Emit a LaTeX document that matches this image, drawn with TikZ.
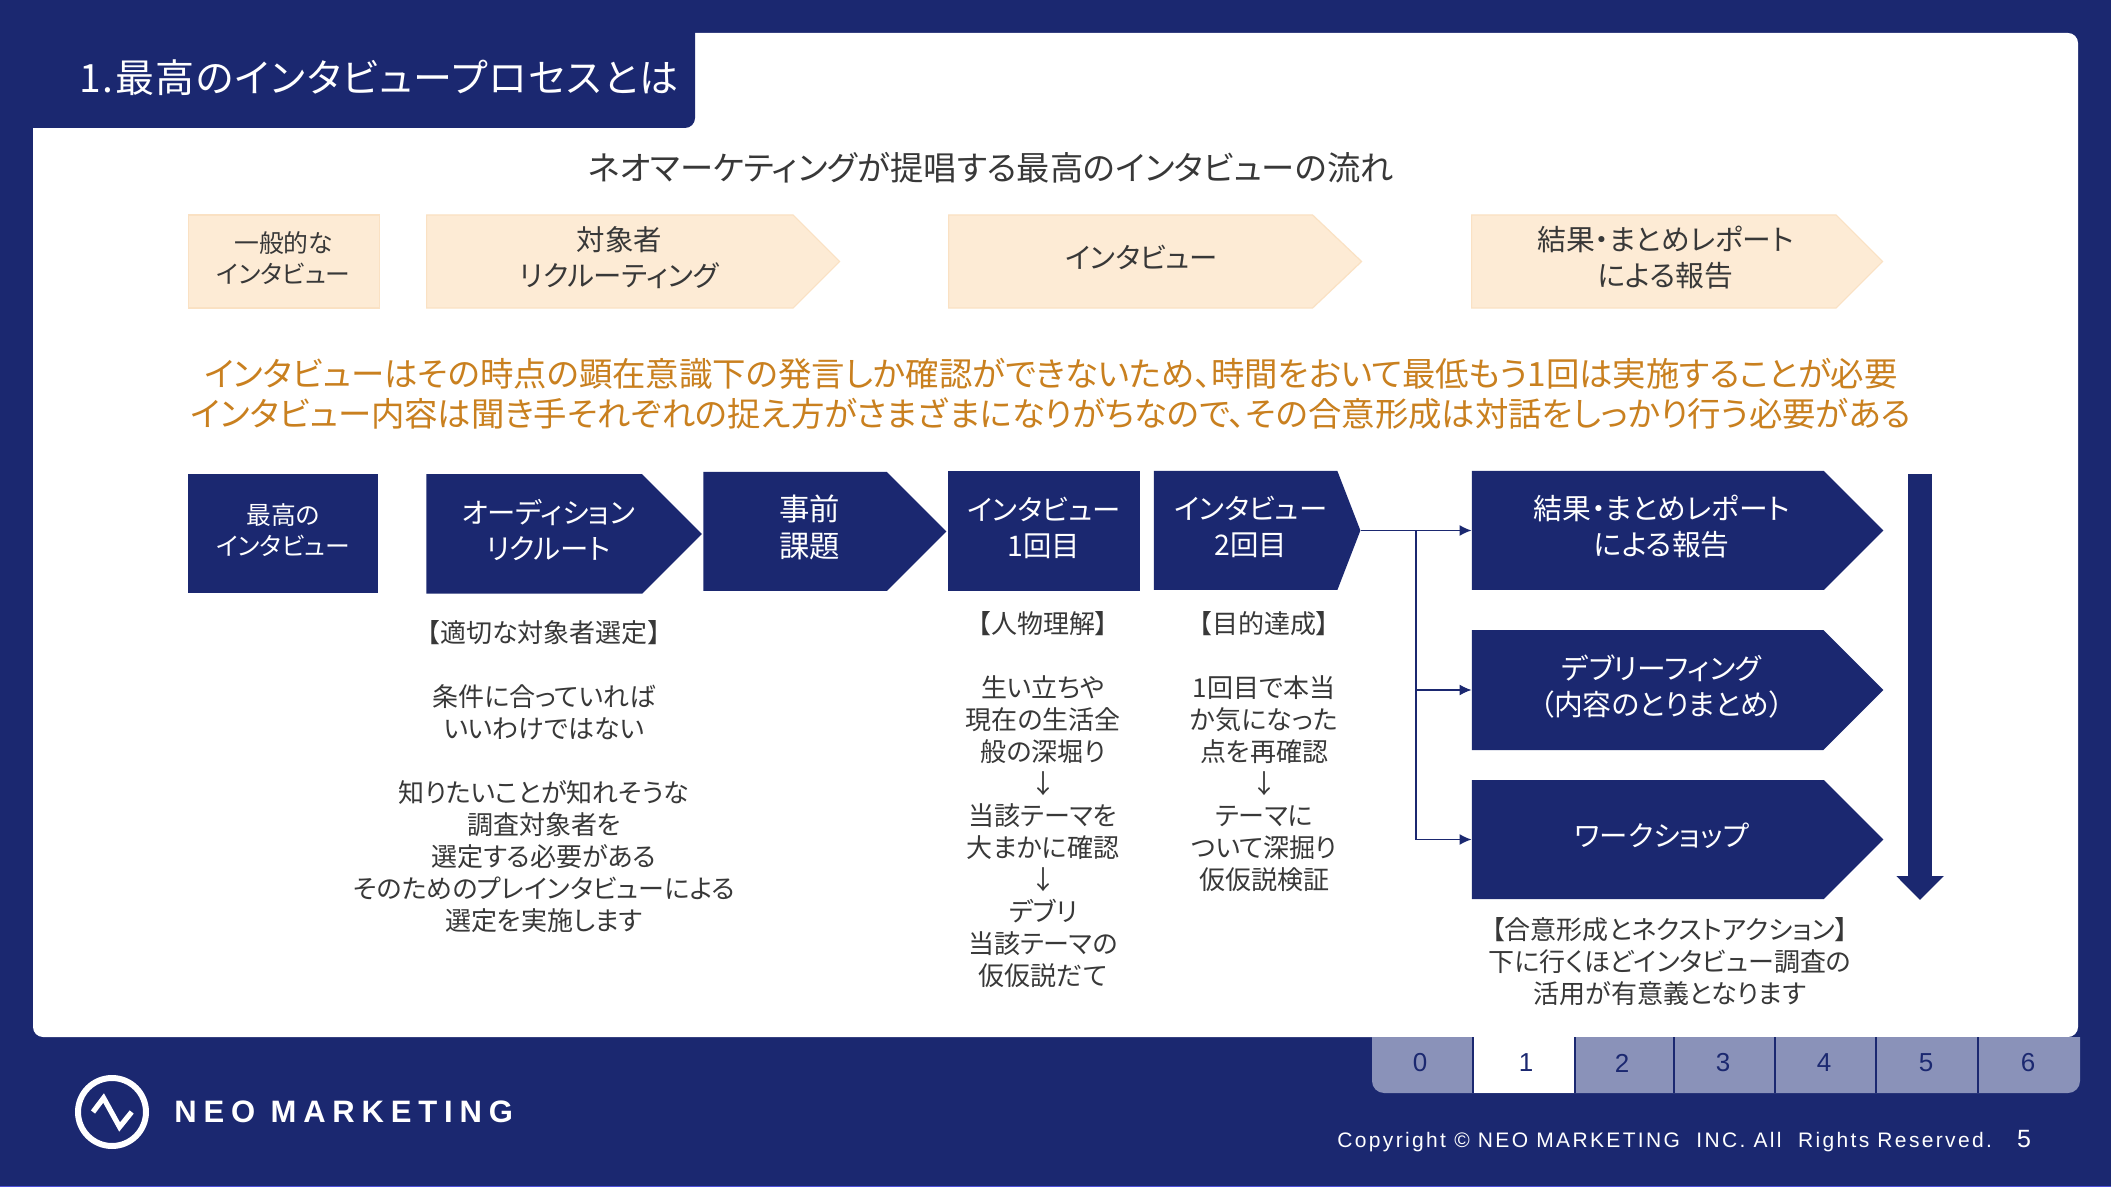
\documentclass[tikz,border=0pt]{standalone}
\usepackage{fontspec}
\setmainfont[RawFeature=+palt]{Noto Sans CJK JP}
\newfontfamily\latinfont{Liberation Sans}
\newfontfamily\copyfont[LetterSpace=11.2]{Liberation Sans}
\newfontfamily\logofont[LetterSpace=22]{Liberation Sans}
\usepackage{xcolor}
\usetikzlibrary{arrows.meta,positioning,shapes.symbols}
\definecolor{neonavy}{HTML}{1B2870}
\definecolor{neopeach}{HTML}{FDEBD5}
\definecolor{neoedge}{HTML}{FAE1C3}
\definecolor{neotab}{HTML}{8A92B9}
\definecolor{neoorange}{HTML}{C9801F}
\definecolor{neotext}{HTML}{383838}
\newcommand{\shiftedtext}[2]{\hspace{#1pt}\begin{tabular}{@{}c@{}}#2\end{tabular}}
\tikzset{
  x=0.5pt,y=-0.5pt,
  navyrect/.style={rectangle,fill=neonavy,text=white,inner sep=0pt},
  navyplate/.style={signal,signal to=east,anchor=west,fill=neonavy,text=white,inner sep=0pt},
  peachrect/.style={rectangle,fill=neopeach,draw=neoedge,line width=0.6pt,text=neotext,inner sep=0pt},
  peachplate/.style={signal,signal to=east,anchor=west,fill=neopeach,draw=neoedge,line width=0.6pt,text=neotext,inner sep=0pt},
  smallface/.style={font=\fontsize{12.4}{15.5}\selectfont},
  midface/.style={font=\fontsize{14.2}{18}\selectfont},
  bigface/.style={font=\fontsize{14.4}{18}\selectfont},
  bodytext/.style={align=center,text=neotext,inner sep=0pt,font=\fontsize{13}{16}\selectfont},
  branchline/.style={draw=neonavy,line width=0.65pt,-{Latex[length=6pt,width=5.5pt]}},
}
\begin{document}
\begin{tikzpicture}
  \useasboundingbox (0,0) rectangle (2111,1187);
  \fill[neonavy] (0,0) rectangle (2111,1187);
  \fill[blue!45!neotab] (0,1185.5) rectangle (2111,1187);
  \fill[white,rounded corners=5pt] (33,33) rectangle (2078,1037);
  \fill[neonavy] (0,0) -- (695,0) [rounded corners=5pt] -- (695,128) [sharp corners] -- (33,128) -- (0,128) -- cycle;
  \node[text=white,inner sep=0pt,font=\fontsize{19.5}{20}\selectfont\addfontfeatures{LetterSpace=3.7}] (title) at (379,78) {1.最高のインタビュープロセスとは};
  \node[text=neotext,inner sep=0pt,font=\fontsize{16.65}{17}\selectfont] (heading) at (991,168) {ネオマーケティングが提唱する最高のインタビューの流れ};

  \node[peachrect,smallface,minimum width=95.5pt,minimum height=46.5pt] (general) at (283.75,261.5) {\shiftedtext{0}{一般的な\\インタビュー}};
  \node[peachplate,midface,minimum width=206.5pt,minimum height=46.5pt] (recruiting) at (426,261.5) {\shiftedtext{9.5}{対象者\\リクルーティング}};
  \node[peachplate,midface,signal pointer angle=87,minimum width=206.5pt,minimum height=46.5pt] (interview) at (948,261.5) {\shiftedtext{11}{インタビュー}};
  \node[peachplate,bigface,minimum width=205.5pt,minimum height=46.5pt] (reporting) at (1471,261.5) {\shiftedtext{11.5}{結果・まとめレポート\\による報告}};

  \node[inner sep=0pt,align=center,text=neoorange,font=\fontsize{16.7}{20}\selectfont] (notice) at (1051,393.5) {インタビューはその時点の顕在意識下の発言しか確認ができないため、時間をおいて最低もう1回は実施することが必要\\インタビュー内容は聞き手それぞれの捉え方がさまざまになりがちなので、その合意形成は対話をしっかり行う必要がある};

  \node[navyrect,smallface,minimum width=95pt,minimum height=59.5pt] (best) at (283,534) {\shiftedtext{0}{最高の\\インタビュー}};
  \node[navyplate,midface,minimum width=137.75pt,minimum height=59.75pt] (audition) at (426,534) {\shiftedtext{14}{オーディション\\リクルート}};
  \node[navyplate,font=\fontsize{15.2}{18.5}\selectfont,minimum width=121.5pt,minimum height=59.5pt] (task) at (703,531.5) {\shiftedtext{14.5}{事前\\課題}};
  \node[navyrect,midface,minimum width=96pt,minimum height=60pt] (firstround) at (1044,531) {\shiftedtext{0}{インタビュー\\1回目}};
  \node[navyplate,midface,signal pointer angle=137.7,minimum width=103.25pt,minimum height=59.5pt] (secondround) at (1153.5,530.5) {\shiftedtext{5}{インタビュー\\2回目}};

  \node[navyplate,bigface,minimum width=205.75pt,minimum height=59.5pt] (report) at (1471.5,530.5) {\shiftedtext{14}{結果・まとめレポート\\による報告}};
  \node[navyplate,bigface,minimum width=205.75pt,minimum height=60pt] (debrief) at (1471.5,690) {\shiftedtext{14}{デブリーフィング\\（内容のとりまとめ）}};
  \node[navyplate,midface,minimum width=205.75pt,minimum height=59.5pt] (workshop) at (1471.5,839.5) {\shiftedtext{14}{ワークショップ}};

  \coordinate (branch) at (1416,530.5);
  \draw[branchline] (secondround.east) -- (report.west);
  \draw[branchline] (branch) |- (debrief.west);
  \draw[branchline] (branch) |- (workshop.west);

  \coordinate (flowtop) at (1920,474);
  \coordinate (flowend) at (1920,900);
  \draw[neonavy,line width=12pt,-{Triangle[length=12pt,width=23pt]}] (flowtop) -- (flowend);

  \node[bodytext] (auditionnote) at (544,777) {【適切な対象者選定】\\[16pt]条件に合っていれば\\いいわけではない\\[16pt]知りたいことが知れそうな\\調査対象者を\\選定する必要がある\\そのためのプレインタビューによる\\選定を実施します};
  \node[bodytext] (firstnote) at (1043,800) {【人物理解】\\[16pt]生い立ちや\\現在の生活全\\般の深堀り\\↓\\当該テーマを\\大まかに確認\\↓\\デブリ\\当該テーマの\\仮仮説だて};
  \node[bodytext] (secondnote) at (1264,751.5) {【目的達成】\\[16pt]1回目で本当\\か気になった\\点を再確認\\↓\\テーマに\\ついて深掘り\\仮仮説検証};
  \node[bodytext] (actionnote) at (1670,962) {【合意形成とネクストアクション】\\下に行くほどインタビュー調査の\\活用が有意義となります};

  \fill[neotab] (1372,1037) [rounded corners=6pt] -- (1372,1093) -- (2080,1093) [sharp corners] -- (2080,1037) -- cycle;
  \fill[white] (1474,1037) rectangle (1574,1093);
  \foreach \sep in {1473,1574.5,1673.5,1774.5,1876,1978}
    \draw[neonavy,line width=1pt] (\sep,1037) -- (\sep,1093);
  \foreach \tabx/\tabn in {1420/0,1526/1,1622/2,1723/3,1824/4,1926/5,2028/6}
    \node[text=neonavy,inner sep=0pt,font=\latinfont\fontsize{13}{14}\selectfont] (tab\tabn) at (\tabx,1063) {\tabn};

  \draw[white,line width=3pt] (112,1112) circle (34);
  \draw[white,line width=2.6pt] (93,1112) -- (103.6,1098) -- (119.6,1127) -- (131.7,1112);
  \node[anchor=west,text=white,inner sep=0pt,font=\logofont\bfseries\fontsize{15.5}{17}\selectfont] (logo) at (174,1112) {NEO MARKETING};
  \node[anchor=west,text=white,inner sep=0pt,font=\copyfont\fontsize{10.5}{12}\selectfont] (copyright) at (1337,1142) {Copyright © NEO MARKETING\ \ INC. All\ \ Rights Reserved.};
  \node[text=white,inner sep=0pt,font=\latinfont\fontsize{12.5}{14}\selectfont] (pageno) at (2024,1139) {5};
\end{tikzpicture}
\end{document}
